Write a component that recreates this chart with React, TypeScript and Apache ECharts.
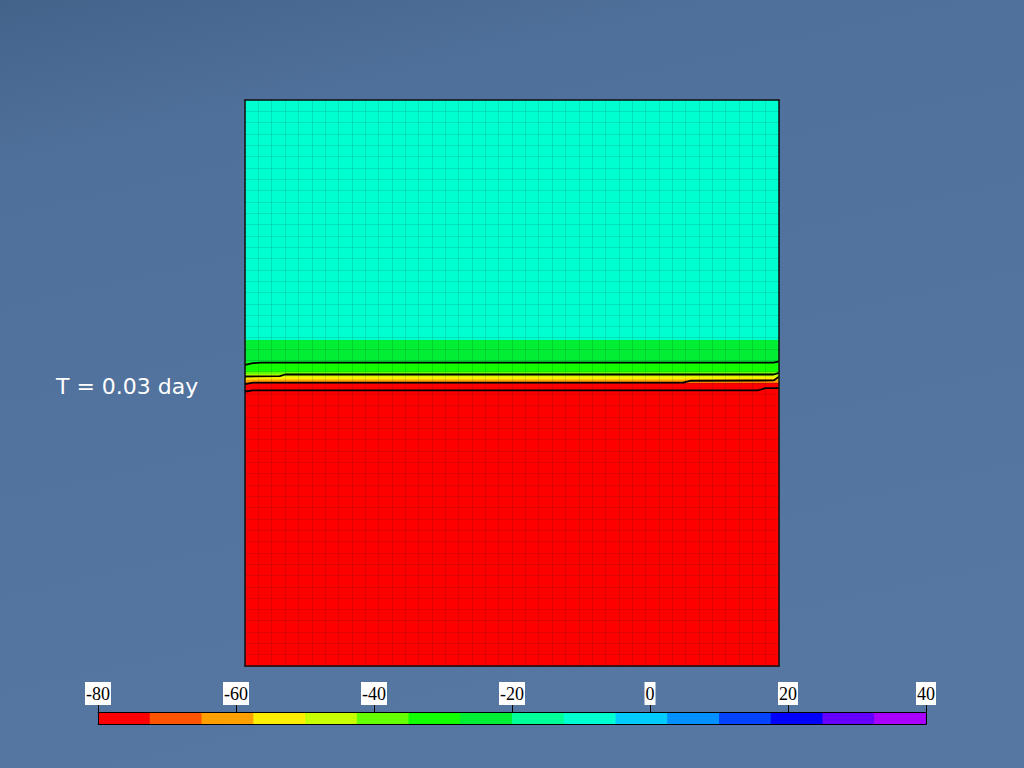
import React, { useEffect, useRef } from "react";
import * as echarts from "echarts";

// Field bands (depth in %, top to bottom) and their values
const bandEdges = [0, 42.4, 46.4, 48.0, 48.5, 48.9, 49.4, 49.95, 100];
const bandValues = [-8, -24, -31, -38, -46, -54, -61, -77];

// Contour lines [x%, depth%]
const contour1 = [[0, 46.8], [1.5, 46.5], [3, 46.4], [99, 46.4], [100, 46.2]];
const contour2 = [[0, 48.85], [6.5, 48.8], [7.5, 48.5], [99, 48.5], [100, 48.2]];
const contour3 = [[0, 50.2], [1.5, 49.95], [82, 49.95], [83.5, 49.6], [99, 49.55], [100, 48.9]];
const contour4 = [[0, 51.5], [1.5, 51.3], [96, 51.3], [97.5, 50.9], [100, 50.9]];

// Colour scale
const binStarts = [-80, -72.5, -65, -57.5, -50, -42.5, -35, -27.5, -20, -12.5, -5, 2.5, 10, 17.5, 25, 32.5];
const binColors = [
  "#ff0000", "#ff5500", "#ffa000", "#ffee00", "#c8ff00", "#66ff00", "#11ff00", "#00ee33",
  "#00ff99", "#00ffd0", "#00ccff", "#0090ff", "#0044ff", "#0000ff", "#6600ff", "#aa00ff",
];
const binWidth = 7.5;
const scaleTicks = [-80, -60, -40, -20, 0, 20, 40];
const titleText = "T = 0.03 day";

export default function App() {
  const ref = useRef<HTMLDivElement>(null);
  useEffect(() => {
    if (!ref.current) return;
    const chart = echarts.init(ref.current, null, { renderer: "svg" });
    const fieldData = bandValues.map((v, i) => [0, 100, bandEdges[i], bandEdges[i + 1], v]);
    const pieces = binStarts.map((s, i) => ({ gte: s, lt: s + binWidth, color: binColors[i] }));
    const borderLine = { show: true, onZero: false, lineStyle: { color: "#111", width: 1.5 } };
    const contourSeries = [contour1, contour2, contour3, contour4].map((c) => ({
      type: "line",
      xAxisIndex: 0,
      yAxisIndex: 0,
      data: c,
      symbol: "none",
      z: 5,
      lineStyle: { color: "#000", width: 1.8 },
    }));
    chart.setOption({
      animation: false,
      backgroundColor: {
        type: "linear",
        x: 0, y: 0, x2: 0.3, y2: 1,
        colorStops: [
          { offset: 0, color: "#44638b" },
          { offset: 0.2, color: "#4f709a" },
          { offset: 1, color: "#5677a1" },
        ],
      },
      title: {
        text: titleText,
        left: 51,
        top: 370,
        textStyle: { color: "#ffffff", fontSize: 22, fontWeight: "normal", fontFamily: "DejaVu Sans" },
      },
      grid: [
        { left: 245, top: 100, width: 534, height: 566 },
        { left: 98, top: 712, width: 828, height: 12 },
      ],
      visualMap: {
        type: "piecewise",
        show: false,
        seriesIndex: 0,
        dimension: 4,
        pieces,
      },
      xAxis: [
        {
          gridIndex: 0, type: "value", min: 0, max: 100, interval: 2.5, z: 3,
          axisLine: borderLine, axisTick: { show: false }, axisLabel: { show: false },
          splitLine: { show: true, lineStyle: { color: "rgba(0,40,40,0.13)", width: 1 } },
        },
        {
          gridIndex: 0, type: "value", min: 0, max: 100, position: "top", z: 6,
          axisLine: borderLine, axisTick: { show: false }, axisLabel: { show: false }, splitLine: { show: false },
        },
        {
          gridIndex: 1, type: "value", min: -80, max: 40, interval: 20, position: "top", z: 6,
          axisLine: { show: true, onZero: false, lineStyle: { color: "#000", width: 1 } },
          axisTick: { show: true, length: 8, lineStyle: { color: "#000", width: 1 } },
          axisLabel: { show: false },
          splitLine: { show: false },
        },
        {
          gridIndex: 1, type: "value", min: -80, max: 40, position: "bottom", z: 6,
          axisLine: { show: true, onZero: false, lineStyle: { color: "#000", width: 1 } },
          axisTick: { show: false }, axisLabel: { show: false }, splitLine: { show: false },
        },
      ],
      yAxis: [
        {
          gridIndex: 0, type: "value", min: 0, max: 100, interval: 2, inverse: true, z: 3,
          axisLine: borderLine, axisTick: { show: false }, axisLabel: { show: false },
          splitLine: { show: true, lineStyle: { color: "rgba(0,40,40,0.13)", width: 1 } },
        },
        {
          gridIndex: 0, type: "value", min: 0, max: 100, position: "right", z: 6,
          axisLine: borderLine, axisTick: { show: false }, axisLabel: { show: false }, splitLine: { show: false },
        },
        {
          gridIndex: 1, type: "value", min: 0, max: 1, z: 6,
          axisLine: { show: true, onZero: false, lineStyle: { color: "#000", width: 1 } },
          axisTick: { show: false }, axisLabel: { show: false }, splitLine: { show: false },
        },
        {
          gridIndex: 1, type: "value", min: 0, max: 1, position: "right", z: 6,
          axisLine: { show: true, onZero: false, lineStyle: { color: "#000", width: 1 } },
          axisTick: { show: false }, axisLabel: { show: false }, splitLine: { show: false },
        },
      ],
      series: [
        {
          type: "custom",
          xAxisIndex: 0,
          yAxisIndex: 0,
          z: 1,
          data: fieldData,
          encode: { x: [0, 1], y: [2, 3] },
          renderItem: (params: any, api: any) => {
            const p0 = api.coord([api.value(0), api.value(2)]);
            const p1 = api.coord([api.value(1), api.value(3)]);
            return {
              type: "rect",
              shape: { x: p0[0], y: p0[1], width: p1[0] - p0[0], height: p1[1] - p0[1] + 0.5 },
              style: { fill: api.visual("color") },
            };
          },
        },
        ...contourSeries,
        {
          type: "custom",
          xAxisIndex: 2,
          yAxisIndex: 2,
          z: 1,
          data: binStarts.map((s, i) => [s, s + binWidth, i]),
          encode: { x: [0, 1] },
          renderItem: (params: any, api: any) => {
            const p0 = api.coord([api.value(0), 1]);
            const p1 = api.coord([api.value(1), 0]);
            return {
              type: "rect",
              shape: { x: p0[0], y: p0[1], width: p1[0] - p0[0] + 0.5, height: p1[1] - p0[1] },
              style: { fill: binColors[api.value(2)] },
            };
          },
        },
        {
          type: "scatter",
          xAxisIndex: 2,
          yAxisIndex: 2,
          z: 7,
          symbolSize: 0,
          silent: true,
          itemStyle: { opacity: 1 },
          data: scaleTicks.map((t) => [t, 1]),
          label: {
            show: true,
            position: "top",
            distance: 7,
            opacity: 1,
            formatter: (p: any) => String(p.value[0]),
            color: "#000000",
            fontSize: 18,
            fontFamily: "Liberation Serif",
            backgroundColor: "#ffffff",
            padding: [3, 1, 2, 1],
          },
        },
      ],
    });
    return () => chart.dispose();
  }, []);
  return (
    <div
      ref={ref}
      style={{ position: "fixed", left: 0, top: 0, width: 1024, height: 768 }}
    />
  );
}
